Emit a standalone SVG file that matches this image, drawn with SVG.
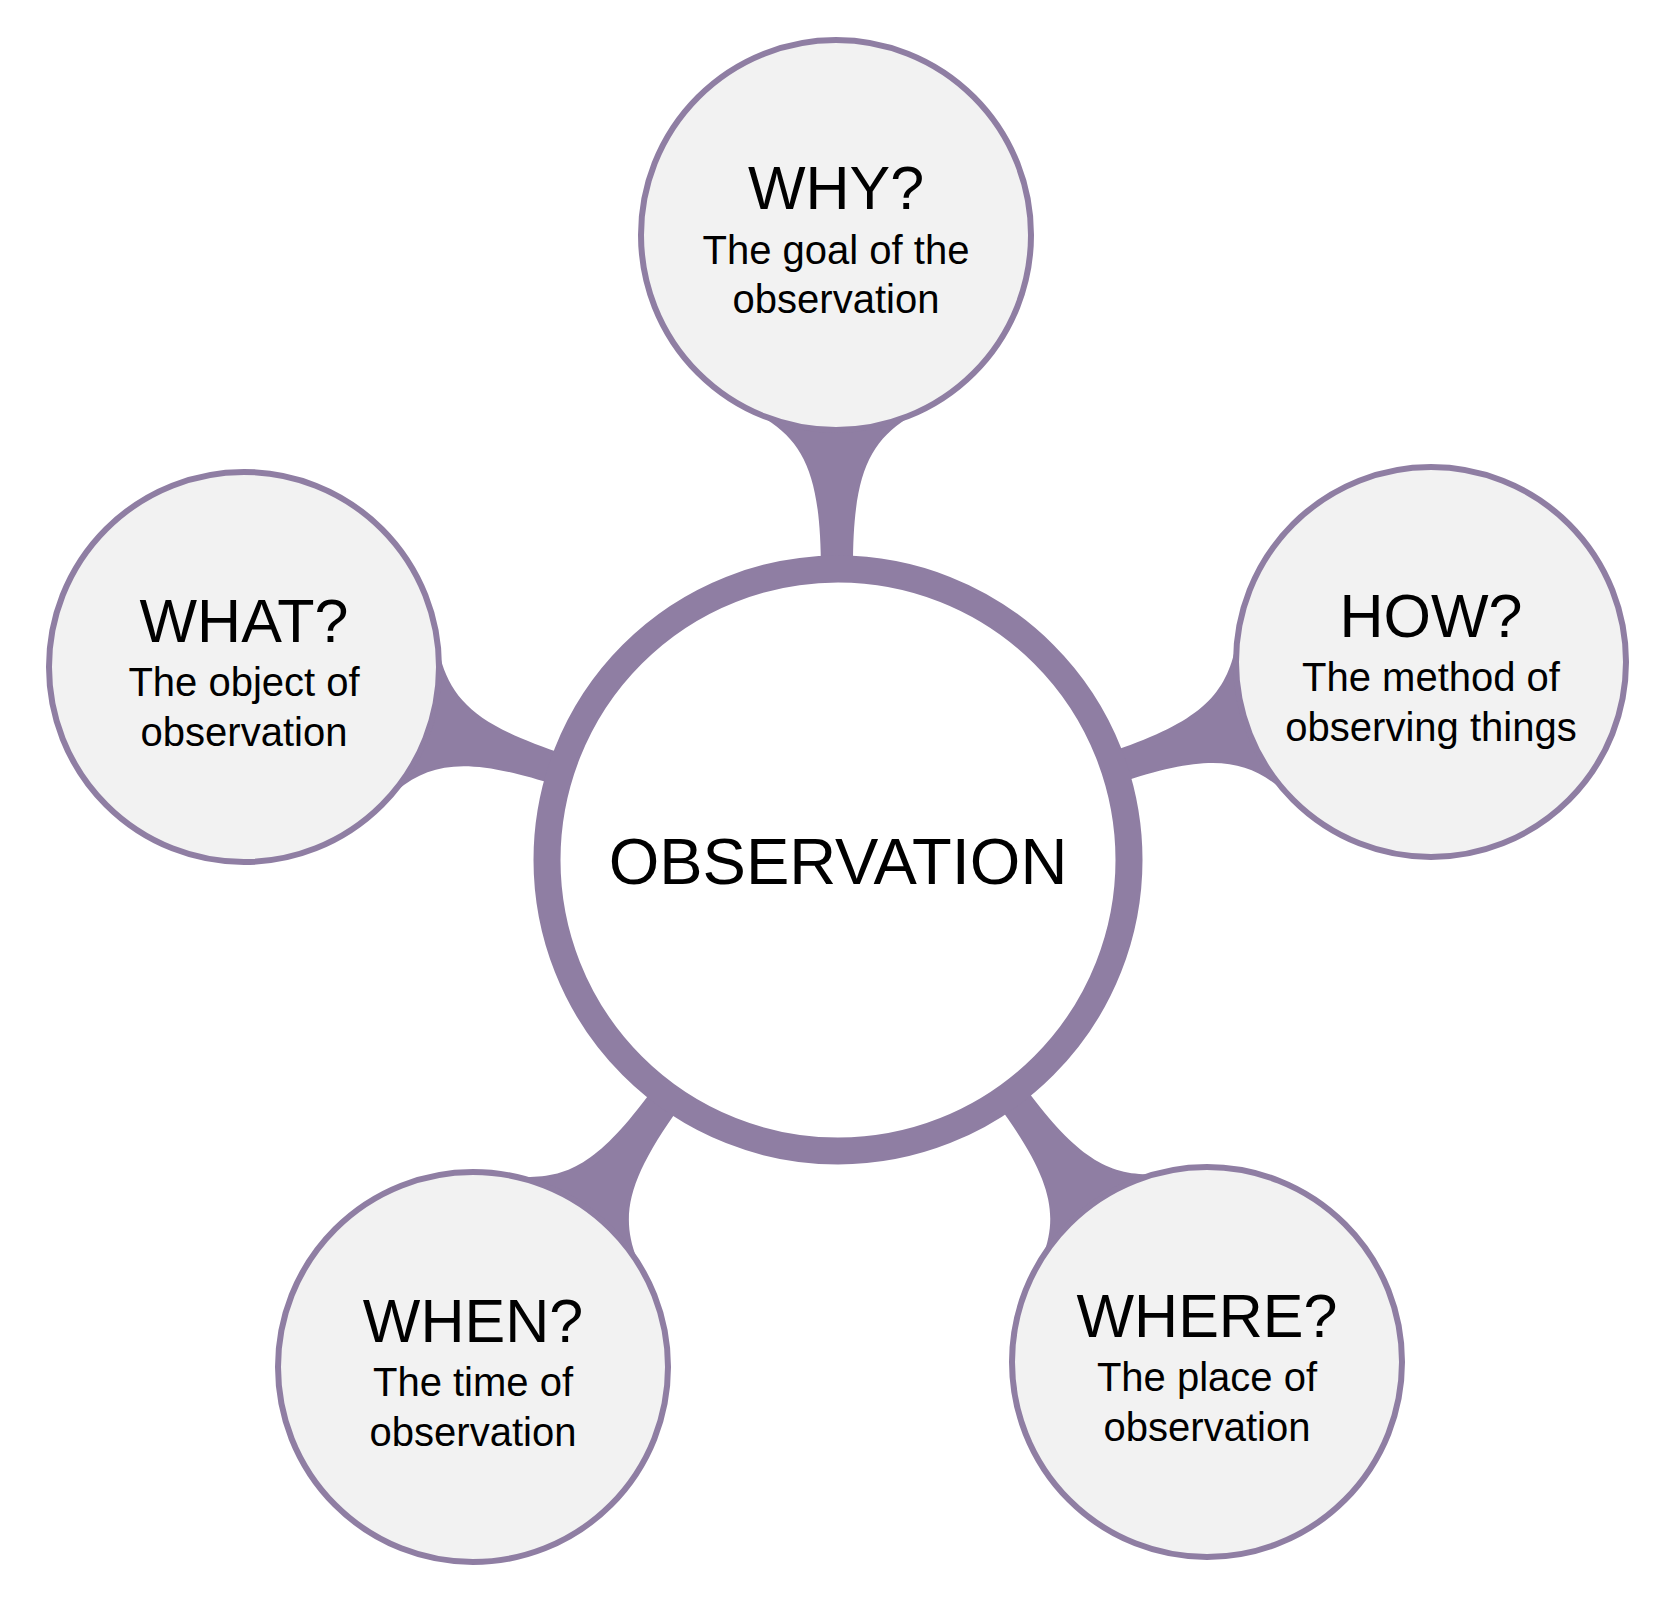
<svg xmlns="http://www.w3.org/2000/svg" xmlns:xlink="http://www.w3.org/1999/xlink" width="1671" height="1600" viewBox="0 0 1671 1600">
<style>
.sat{fill:#f2f2f2;stroke:#8f7ea3;stroke-width:6}
.t{font-family:"Liberation Sans",Arial,sans-serif;text-anchor:middle;fill:#000}
.h{font-size:61px}.s{font-size:40px}
</style>
<defs>
<path id="neck" d="M 270,-16 L 290,-16 C 380,-16 415,-30 441,-70 L 490,-70 L 490,70 L 441,70 C 415,30 380,16 290,16 L 270,16 Z" fill="#8f7ea3"/>
</defs>
<rect width="1671" height="1600" fill="#fff"/>
<g id="connectors" transform="translate(838,860)">
<use xlink:href="#neck" href="#neck" transform="rotate(-90.2)"/>
<use xlink:href="#neck" href="#neck" transform="rotate(-18.5)"/>
<use xlink:href="#neck" href="#neck" transform="rotate(-162)"/>
<use xlink:href="#neck" href="#neck" transform="rotate(125.8)"/>
<use xlink:href="#neck" href="#neck" transform="rotate(53.7)"/>
</g>
<g id="center"><circle cx="838" cy="860" r="291" fill="#fff" stroke="#8f7ea3" stroke-width="27"/>
<text class="t" x="838" y="884" font-size="65">OBSERVATION</text></g>
<g id="why"><circle class="sat" cx="836" cy="235" r="195"/>
<text class="t h" x="836" y="209">WHY?</text><text class="t s" x="836" y="264">The goal of the</text><text class="t s" x="836" y="313">observation</text></g>
<g id="how"><circle class="sat" cx="1431" cy="662" r="195"/>
<text class="t h" x="1431" y="637">HOW?</text><text class="t s" x="1431" y="691">The method of</text><text class="t s" x="1431" y="741">observing things</text></g>
<g id="what"><circle class="sat" cx="244" cy="667" r="195"/>
<text class="t h" x="244" y="642">WHAT?</text><text class="t s" x="244" y="696">The object of</text><text class="t s" x="244" y="746">observation</text></g>
<g id="when"><circle class="sat" cx="473" cy="1367" r="195"/>
<text class="t h" x="473" y="1342">WHEN?</text><text class="t s" x="473" y="1396">The time of</text><text class="t s" x="473" y="1446">observation</text></g>
<g id="where"><circle class="sat" cx="1207" cy="1362" r="195"/>
<text class="t h" x="1207" y="1337">WHERE?</text><text class="t s" x="1207" y="1391">The place of</text><text class="t s" x="1207" y="1441">observation</text></g>
</svg>
